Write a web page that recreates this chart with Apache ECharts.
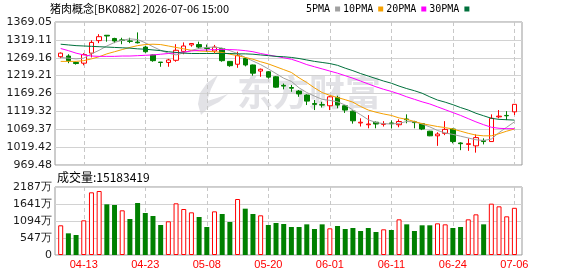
<!DOCTYPE html>
<html><head><meta charset="utf-8">
<script src="https://cdn.jsdelivr.net/npm/echarts@6/dist/echarts.min.js"></script>
<style>html,body{margin:0;padding:0;background:#fff;}#c{width:578px;height:276px;}</style>
</head><body><div id="c"></div>
<script>
const titleText = '猪肉概念[BK0882] 2026-07-06 15:00';
const volTitle = '成交量:15183419';
const dates = ['04-08','04-09','04-10','04-13','04-14','04-15','04-16','04-17','04-20','04-21','04-22','04-23','04-24','04-27','04-28','04-29','04-30','05-06','05-07','05-08','05-11','05-12','05-13','05-14','05-15','05-18','05-19','05-20','05-21','05-22','05-25','05-26','05-27','05-28','05-29','06-01','06-02','06-03','06-04','06-05','06-08','06-09','06-10','06-11','06-12','06-15','06-16','06-17','06-18','06-22','06-23','06-24','06-25','06-26','06-29','06-30','07-01','07-02','07-03','07-06'];
// [open, close, low, high]
const candles = [
[1272,1282,1268,1284],[1274,1261,1254,1279],[1256,1253,1250,1258],[1254,1278,1248,1282],[1282,1312,1270,1318],
[1317,1328,1310,1335],[1332,1330,1314,1332],[1323,1316,1310,1325],[1319,1318,1307,1325],[1316,1315,1310,1325],
[1313,1311,1309,1340],[1299,1286,1283,1302],[1277,1261,1258,1278],[1257,1256,1244,1257],[1256,1263,1244,1266],
[1262,1290,1258,1307],[1287,1302,1279,1312],[1305,1309,1300,1310],[1306,1299,1294,1314],[1297,1295,1286,1306],
[1288,1299,1282,1305],[1295,1261,1258,1297],[1259,1247,1244,1260],[1251,1275,1241,1286],[1267,1249,1245,1270],
[1249,1226,1219,1250],[1232,1237,1216,1239],[1230,1215,1211,1232],[1216,1187,1185,1218],[1192,1190,1181,1197],
[1186,1184,1174,1193],[1176,1168,1160,1179],[1165,1148,1137,1167],[1141,1139,1123,1151],[1138,1137,1130,1146],
[1135,1160,1123,1162],[1158,1137,1128,1163],[1135,1123,1115,1137],[1120,1093,1085,1122],[1087,1089,1077,1100],
[1082,1084,1072,1109],[1089,1084,1072,1091],[1083,1085,1077,1092],[1087,1085,1072,1094],[1082,1091,1075,1097],
[1098,1096,1086,1111],[1090,1088,1072,1093],[1085,1070,1067,1087],[1064,1051,1050,1065],[1051,1056,1023,1061],
[1058,1069,1053,1092],[1070,1035,1030,1072],[1031,1029,1011,1033],[1027,1029,1009,1044],[1023,1046,1004,1055],
[1038,1035,1027,1044],[1035,1100,1035,1111],[1104,1106,1100,1123],[1108,1107,1095,1120],[1118,1139,1109,1139]
];
const ma5 = [1270,1268,1266,1268,1280,1290,1302,1312,1318,1322,1320,1311,1300,1290,1282,1277,1283,1290,1295,1298,1299,1296,1289,1281,1270,1260,1250,1238,1225,1212,1203,1185,1172,1162,1153,1150,1146,1137,1123,1110,1096,1088,1085,1084,1086,1091,1090,1084,1076,1066,1059,1055,1050,1045,1040,1038,1042,1060,1075,1090];
const ma10 = [1259,1259,1259,1261,1266,1272,1280,1286,1292,1298,1303,1306,1307,1306,1302,1298,1294,1290,1288,1287,1286,1284,1279,1275,1270,1265,1258,1252,1244,1236,1228,1213,1200,1185,1172,1164,1158,1152,1145,1133,1123,1117,1112,1108,1101,1097,1091,1085,1081,1077,1074,1070,1064,1058,1053,1051,1051,1057,1064,1070];
const ma20 = [1295,1289,1282,1277,1274,1273,1273,1273,1274,1274,1275,1276,1277,1279,1281,1283,1285,1288,1290,1291,1292,1292,1292,1291,1289,1286,1281,1277,1273,1269,1265,1258,1250,1244,1238,1232,1226,1219,1212,1204,1196,1188,1181,1175,1168,1160,1153,1146,1140,1132,1124,1116,1108,1099,1090,1082,1075,1072,1071,1071];
const ma30 = [1307,1305,1303,1302,1301,1300,1299,1298,1297,1296,1294,1293,1291,1289,1286,1284,1282,1281,1281,1281,1281,1281,1281,1280,1280,1279,1277,1275,1273,1272,1270,1267,1263,1259,1256,1253,1248,1240,1233,1225,1218,1211,1204,1198,1190,1183,1177,1170,1160,1151,1145,1138,1130,1123,1114,1107,1100,1097,1096,1095];
// volume in 万
const volumes = [955,697,643,1115,2016,2058,1630,1608,1437,1158,1672,1351,1254,965,1083,1662,1479,1372,1222,900,1404,1319,1061,1801,1490,1319,1276,965,1029,997,900,900,986,836,986,858,933,836,868,772,868,740,826,804,1147,986,772,955,955,1018,986,868,900,1147,1308,986,1651,1565,1244,1518];
// 1 = red (up) volume bar, 0 = green
const volUp = [1,0,0,1,1,1,0,0,1,0,0,0,0,0,1,1,1,1,0,0,1,0,0,1,0,0,1,0,0,0,0,0,0,0,0,1,0,0,0,0,0,0,1,0,1,0,0,0,0,1,1,0,0,1,1,0,1,1,1,1];
const priceTicks = ['969.48','1019.42','1069.37','1119.32','1169.26','1219.21','1269.16','1319.11','1369.05'];
const volTicks = ['0','547万','1094万','1641万','2187万'];
const maNames = ['5PMA','10PMA','20PMA','30PMA'];
const maColors = ['#a0a0a0','#f5a000','#ff00ff','#00703c'];

const RED = '#ff0000', GREEN = '#008000';
const pMin = parseFloat(priceTicks[0]), pMax = parseFloat(priceTicks[priceTicks.length-1]);
const vMax = parseFloat(volTicks[volTicks.length-1]);
const showIdx = (i) => i % 8 === 3;

const chart = echarts.init(document.getElementById('c'), null, {renderer:'canvas'});
const labelFont = {fontFamily:'DejaVu Sans', fontSize:11, color:'#1a1a1a'};
const WM = '#e2e2e6';
const option = {
  animation:false,
  backgroundColor:'#fff',
  title:[
    {text:titleText, left:50, top:3, padding:0, textStyle:{fontSize:11, fontWeight:'normal', fontFamily:'Noto Sans CJK SC', color:'#000'}},
    {text:volTitle, left:57, top:171, padding:0, textStyle:{fontSize:12, fontWeight:'normal', fontFamily:'Noto Sans CJK SC', color:'#000'}}
  ],
  legend:{
    data:maNames, left:306, top:4, padding:0, align:'right', icon:'rect', itemWidth:5, itemHeight:5, itemGap:3,
    selectedMode:false,
    textStyle:{fontFamily:'DejaVu Sans Mono', fontSize:10, color:'#000'}
  },
  graphic:[
    {type:'text', left:237, top:74, z:-1, silent:true,
     style:{text:'东方财富', fontSize:36, fontWeight:'bold', fontFamily:'Noto Sans CJK SC', fill:WM}},
    {type:'polygon', left:198, top:75, z:-1, silent:true,
     shape:{points:[[24,0],[13,8],[6,18],[4,29],[7,40],[15,32],[25,27],[34,19],[23,23],[13,26],[17,14]]},
     style:{fill:WM}}
  ],
  grid:[
    {left:60.7, right:63.6, top:22, height:143},
    {left:60.7, right:63.6, top:187, height:68},
    {left:55, right:56, top:22, height:143, show:true, borderColor:'#999', borderWidth:1},
    {left:55, right:56, top:187, height:68, show:true, borderColor:'#999', borderWidth:1}
  ],
  xAxis:[
    {type:'category', gridIndex:0, data:dates, boundaryGap:false, axisLine:{show:false}, axisTick:{show:false}, axisLabel:{show:false},
     splitLine:{show:true, interval:showIdx, lineStyle:{type:[4,3], color:'#c8c8c8', width:1}}},
    {type:'category', gridIndex:1, data:dates, boundaryGap:false, axisLine:{show:false}, axisTick:{show:false},
     axisLabel:{interval:showIdx, color:RED, fontSize:11, fontFamily:'Liberation Sans', margin:4},
     splitLine:{show:true, interval:showIdx, lineStyle:{type:[4,3], color:'#c8c8c8', width:1}}},
    {type:'value', gridIndex:2, show:false},
    {type:'value', gridIndex:3, show:false}
  ],
  yAxis:[
    {type:'value', gridIndex:0, min:pMin, max:pMax, show:false},
    {type:'value', gridIndex:1, min:0, max:vMax, show:false},
    {type:'value', gridIndex:2, min:pMin, max:pMax, interval:(pMax-pMin)/8, axisLine:{show:false}, axisTick:{show:false},
     axisLabel:Object.assign({margin:3, formatter:(v,i)=>priceTicks[i]}, labelFont),
     splitLine:{lineStyle:{color:'#d2d2d2', width:1}}},
    {type:'value', gridIndex:3, min:0, max:vMax, interval:vMax/4, axisLine:{show:false}, axisTick:{show:false},
     axisLabel:Object.assign({margin:3, formatter:(v,i)=>volTicks[i]}, labelFont),
     splitLine:{lineStyle:{color:'#d2d2d2', width:1}}}
  ],
  series:[
    {type:'candlestick', xAxisIndex:0, yAxisIndex:0, data:candles, barWidth:5, clip:false, z:3,
     itemStyle:{color:'#ffffff', color0:GREEN, borderColor:RED, borderColor0:GREEN, borderWidth:1}},
    ...[ma5, ma10, ma20, ma30].map((d,k)=>({
      type:'line', name:maNames[k], xAxisIndex:0, yAxisIndex:0, data:d, symbol:'none', clip:false, z:4,
      color:maColors[k], lineStyle:{color:maColors[k], width:1}
    })),
    {type:'bar', xAxisIndex:1, yAxisIndex:1, barWidth:5, clip:false,
     data:volumes.map((v,i)=>({value:v, itemStyle: volUp[i] ? {color:'#ffffff', borderColor:RED, borderWidth:1} : {color:GREEN, borderColor:GREEN, borderWidth:0}}))}
  ]
};
chart.setOption(option);
</script></body></html>
